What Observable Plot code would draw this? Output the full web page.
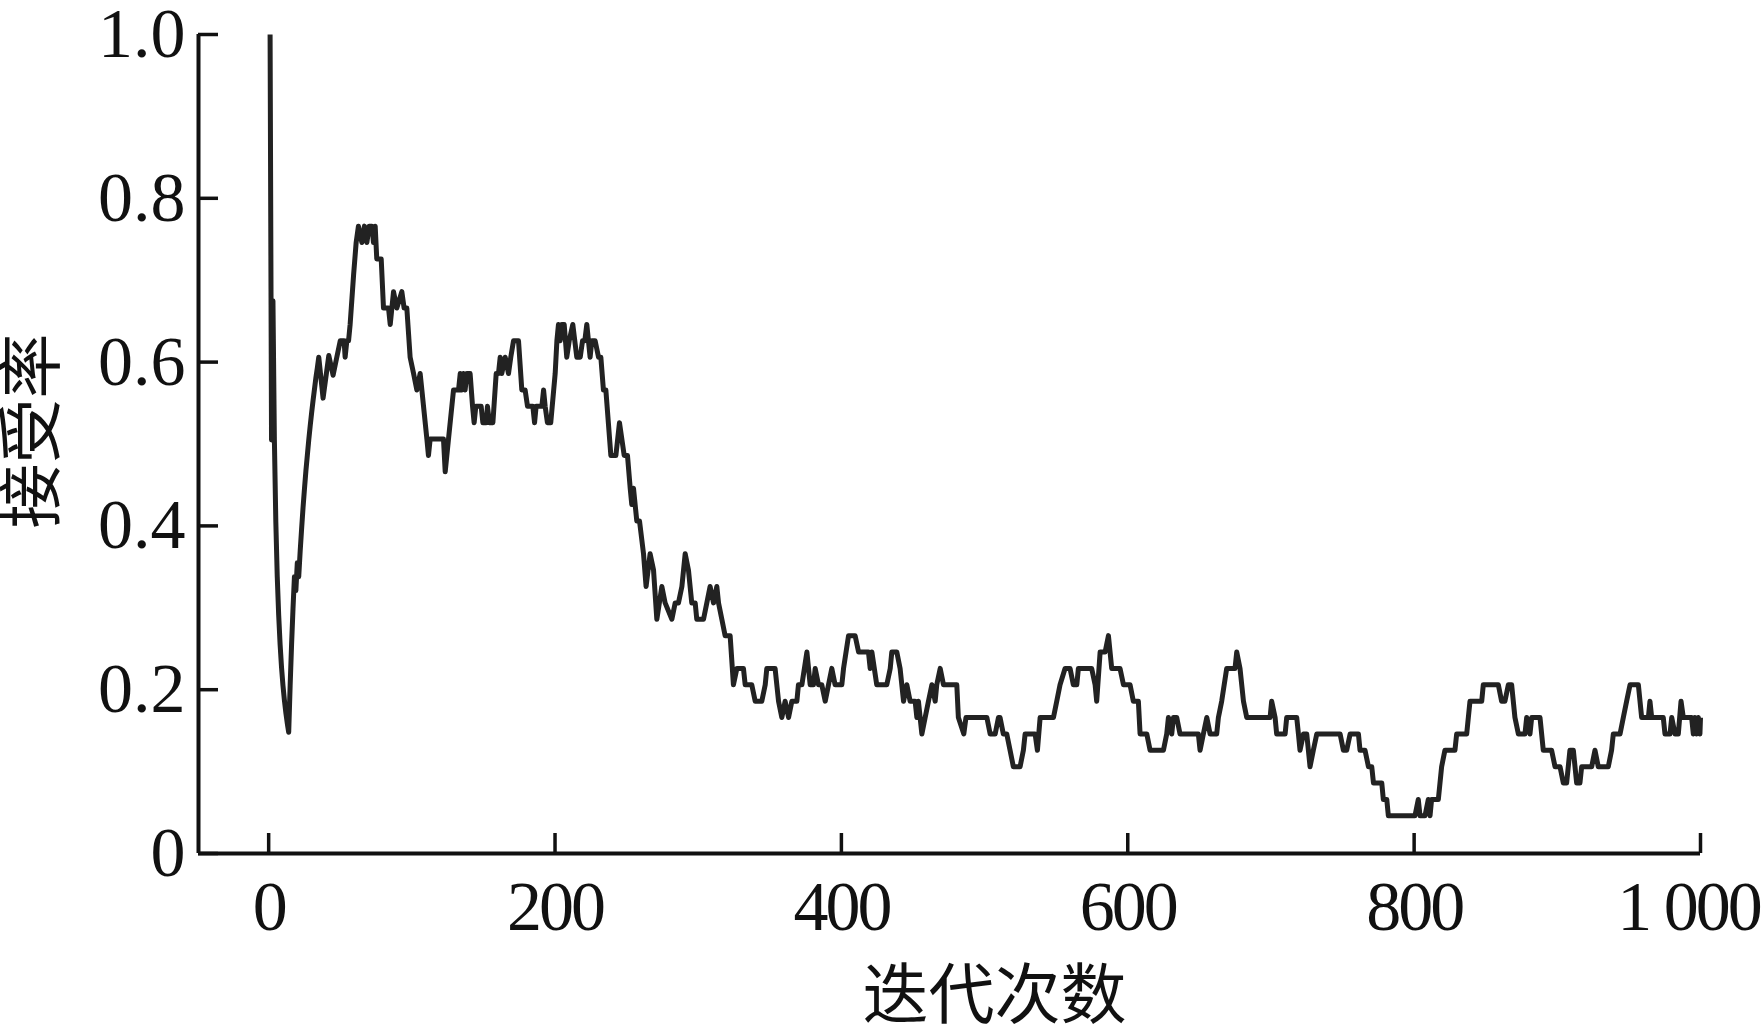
<!DOCTYPE html>
<html>
<head>
<meta charset="utf-8">
<script src="https://cdn.jsdelivr.net/npm/d3@7"></script>
<script src="https://cdn.jsdelivr.net/npm/@observablehq/plot@0.6"></script>
<style>
  html, body { margin: 0; padding: 0; background: #fff; }
  svg { display: block; }
  g[aria-label="x-axis tick label"] text { letter-spacing: -3px; }
</style>
</head>
<body>
<div id="chart"></div>
<script>
// Iteration numbers (x) and acceptance rate (y)
const iterations = [
  1, 2, 3, 4, 5, 6, 7, 8, 9, 10, 11, 12, 13, 14, 15, 16, 17, 18, 19, 20, 21, 22,
  23, 24, 25, 26, 27, 28, 29, 30, 31, 32, 33, 34, 35, 38, 42, 45, 47, 50,
  52.7, 53.4, 54.6, 55.8, 56.9, 59.3, 61.1, 62.7, 65.1, 66.9, 68.6, 70.2, 72.1, 73.2, 74.4, 75.5,
  78.6, 80.2, 83.7, 84.9, 87.2, 89.5, 93.0, 94.6, 96.5, 98.8, 101.2, 103.5, 105.8, 107.0, 110.5,
  111.6, 112.8, 122.1, 123.3, 125.6, 129.1, 132.6, 133.8, 134.9, 136.1, 137.2, 138.4, 140.7,
  142.4, 143.5, 144.7, 148.4, 149.6, 151.9, 152.8, 154.2, 156.6, 158.9, 160.5, 161.7, 162.8,
  165.2, 167.5, 169.1, 171.0, 174.5, 176.8, 179.1, 180.8, 184.5, 185.7, 186.8, 190.8, 192.0,
  193.1, 194.7, 197.0, 200.1, 201.3, 202.4, 203.6, 204.7, 206.4, 208.2, 209.9, 212.4, 215.2,
  217.6, 219.2, 220.8, 222.2, 224.5, 225.7, 228.0, 230.4, 232.0, 233.8, 235.5, 239.0, 242.5,
  245.0, 248.3, 250.6, 252.5, 253.6, 254.8, 257.1, 259.0, 261.8, 263.6, 266.4, 268.8, 271.1,
  274.6, 276.9, 281.6, 283.9, 286.2, 288.6, 290.9, 293.2, 295.5, 297.9, 299.0, 303.7, 306.0,
  308.3, 310.7, 313.0, 314.2, 316.5, 318.8, 322.3, 324.6, 327.0, 331.6, 332.8, 337.4, 339.8,
  344.4, 346.8, 347.9, 353.7, 356.1, 358.4, 360.7, 363.1, 365.4, 368.9, 370.0, 372.4, 375.9,
  378.2, 380.5, 381.7, 384.0, 386.3, 388.7, 391.0, 393.3, 395.6, 400.3, 401.5, 405.0, 409.6,
  412.0, 418.9, 420.1, 421.3, 424.7, 431.7, 434.1, 435.2, 438.7, 441.0, 443.4, 445.7, 448.0,
  451.5, 452.7, 453.8, 456.2, 458.5, 460.8, 463.2, 465.5, 466.6, 469.0, 471.3, 480.6, 481.7,
  485.5, 487.0, 501.6, 503.9, 507.4, 509.7, 510.8, 513.1, 515.5, 517.8, 520.1, 524.8, 527.1,
  528.3, 535.3, 536.9, 538.8, 548.1, 550.4, 552.7, 556.2, 559.7, 562.0, 564.4, 565.5, 574.8,
  577.2, 578.3, 580.7, 584.2, 586.5, 588.8, 594.6, 597.0, 601.6, 603.9, 607.4, 608.6, 613.3,
  615.6, 624.9, 627.2, 628.4, 630.7, 631.9, 634.2, 636.5, 649.3, 650.5, 652.8, 655.2, 657.5,
  662.1, 663.3, 665.6, 669.1, 674.9, 676.1, 678.4, 680.8, 683.1, 699.4, 700.5, 702.9, 704.0,
  709.9, 711.0, 718.0, 719.2, 720.3, 722.7, 725.0, 727.3, 729.6, 732.0, 748.3, 750.6, 752.9,
  755.3, 761.1, 762.2, 765.7, 768.1, 770.4, 771.6, 777.4, 778.5, 780.9, 782.0, 800.6, 802.9,
  804.1, 807.6, 809.9, 811.1, 812.2, 816.9, 819.2, 821.5, 828.5, 829.7, 836.7, 839.0, 847.2,
  848.3, 858.8, 861.1, 863.4, 865.8, 868.1, 870.4, 872.8, 877.4, 878.6, 880.9, 882.1, 887.9,
  890.2, 896.0, 898.4, 901.9, 904.2, 906.5, 908.8, 911.2, 913.5, 915.8, 917.0, 924.0, 926.3,
  928.6, 935.6, 937.9, 939.1, 943.8, 946.1, 948.4, 950.8, 956.6, 958.9, 963.6, 964.7, 965.9,
  974.0, 975.2, 978.7, 979.9, 982.2, 984.5, 986.4, 988.0, 993.8, 995.0, 996.1, 997.3, 998.5,
  999.6, 1000
];
const acceptance = [
  1.0, 0.505, 0.675, 0.505, 0.405, 0.338, 0.291, 0.255, 0.227, 0.205, 0.187, 0.172, 0.159, 0.148,
  0.205, 0.255, 0.299, 0.338, 0.321, 0.355, 0.338, 0.369,
  0.396, 0.422, 0.445, 0.467, 0.486, 0.505, 0.522, 0.538, 0.553, 0.567, 0.581, 0.593, 0.606,
  0.556, 0.608, 0.584, 0.601, 0.626,
  0.626, 0.606, 0.626, 0.626, 0.646, 0.706, 0.746, 0.766, 0.746, 0.766, 0.746, 0.766, 0.766, 0.746, 0.766, 0.726,
  0.726, 0.666, 0.666, 0.646, 0.686, 0.666, 0.686, 0.666, 0.666, 0.606, 0.586, 0.566, 0.586, 0.566, 0.506,
  0.486, 0.506, 0.506, 0.466, 0.506, 0.566, 0.566, 0.586, 0.566, 0.586, 0.566, 0.586, 0.586,
  0.546, 0.526, 0.546, 0.546, 0.526, 0.526, 0.546, 0.526, 0.526, 0.586, 0.586, 0.606, 0.586,
  0.606, 0.586, 0.606, 0.626, 0.626, 0.566, 0.566, 0.546, 0.546, 0.526, 0.546, 0.546, 0.566,
  0.546, 0.526, 0.526, 0.586, 0.626, 0.646, 0.626, 0.646, 0.646, 0.606, 0.626, 0.646, 0.606,
  0.606, 0.626, 0.626, 0.646, 0.606, 0.626, 0.626, 0.606, 0.606, 0.566, 0.566, 0.486, 0.486,
  0.526, 0.486, 0.486, 0.446, 0.426, 0.446, 0.406, 0.406, 0.366, 0.326, 0.366, 0.346, 0.286,
  0.326, 0.306, 0.286, 0.306, 0.306, 0.326, 0.366, 0.346, 0.306, 0.306, 0.286, 0.286, 0.306,
  0.326, 0.306, 0.326, 0.306, 0.286, 0.266, 0.266, 0.206, 0.226, 0.226, 0.206, 0.206, 0.186,
  0.186, 0.206, 0.226, 0.226, 0.186, 0.166, 0.186, 0.166, 0.186, 0.186, 0.206, 0.206, 0.246,
  0.206, 0.206, 0.226, 0.206, 0.206, 0.186, 0.206, 0.226, 0.206, 0.206, 0.226, 0.266, 0.266,
  0.246, 0.246, 0.226, 0.246, 0.206, 0.206, 0.226, 0.246, 0.246, 0.226, 0.186, 0.206, 0.186,
  0.186, 0.166, 0.186, 0.146, 0.166, 0.186, 0.206, 0.186, 0.206, 0.226, 0.206, 0.206, 0.166,
  0.146, 0.166, 0.166, 0.146, 0.146, 0.166, 0.166, 0.146, 0.146, 0.126, 0.106, 0.106, 0.126,
  0.146, 0.146, 0.126, 0.166, 0.166, 0.186, 0.206, 0.226, 0.226, 0.206, 0.206, 0.226, 0.226,
  0.206, 0.186, 0.246, 0.246, 0.266, 0.226, 0.226, 0.206, 0.206, 0.186, 0.186, 0.146, 0.146,
  0.126, 0.126, 0.146, 0.166, 0.146, 0.166, 0.166, 0.146, 0.146, 0.126, 0.146, 0.166, 0.146,
  0.146, 0.166, 0.186, 0.226, 0.226, 0.246, 0.226, 0.186, 0.166, 0.166, 0.186, 0.166, 0.146,
  0.146, 0.166, 0.166, 0.146, 0.126, 0.146, 0.146, 0.106, 0.126, 0.146, 0.146, 0.126, 0.126,
  0.146, 0.146, 0.126, 0.126, 0.106, 0.106, 0.086, 0.086, 0.066, 0.066, 0.046, 0.046, 0.066,
  0.046, 0.046, 0.066, 0.046, 0.066, 0.066, 0.106, 0.126, 0.126, 0.146, 0.146, 0.186, 0.186,
  0.206, 0.206, 0.186, 0.186, 0.206, 0.206, 0.166, 0.146, 0.146, 0.166, 0.146, 0.166, 0.166,
  0.126, 0.126, 0.106, 0.106, 0.086, 0.086, 0.126, 0.126, 0.086, 0.086, 0.106, 0.106, 0.126,
  0.106, 0.106, 0.126, 0.146, 0.146, 0.166, 0.186, 0.206, 0.206, 0.166, 0.166, 0.186, 0.166,
  0.166, 0.146, 0.146, 0.166, 0.146, 0.146, 0.186, 0.166, 0.166, 0.146, 0.166, 0.146, 0.166,
  0.146, 0.166
];

const xTicks = [0, 200, 400, 600, 800, 1000];
const xTickLabels = ["0", "200", "400", "600", "800", "1 000"];
const yTicks = [0, 0.2, 0.4, 0.6, 0.8, 1.0];
const yTickLabels = ["0", "0.2", "0.4", "0.6", "0.8", "1.0"];
const xTitle = "迭代次数";
const yTitle = "接受率";
const xDomain = [-49, 1000];
const yDomain = [0, 1];

const series = iterations.map((x, i) => ({ x, y: acceptance[i] }));

const W = 1763, H = 1033;
const mL = 198, mR = 63, mT = 34, mB = 180;
const frameW = W - mL - mR, frameH = H - mT - mB;
const numFont = "'Liberation Serif', 'Times New Roman', serif";
const cjkFont = "'Noto Sans CJK SC', sans-serif";
const ink = "#111";
const xLabel = d => xTickLabels[xTicks.indexOf(d)];
const lastTick = xTicks[xTicks.length - 1];

const chart = Plot.plot({
  width: W,
  height: H,
  marginLeft: mL,
  marginRight: mR,
  marginTop: mT,
  marginBottom: mB,
  style: { background: "#fff", color: ink, fontFamily: numFont },
  x: { domain: xDomain },
  y: { domain: yDomain },
  marks: [
    Plot.axisX(xTicks.filter(d => d !== lastTick), {
      tickSize: 0, tickPadding: 27, fontSize: 70, fontFamily: numFont, fill: ink,
      tickFormat: xLabel, label: null
    }),
    Plot.axisX([lastTick], {
      tickSize: 0, tickPadding: 27, fontSize: 70, fontFamily: numFont, fill: ink,
      tickFormat: xLabel, label: null, dx: -12
    }),
    Plot.axisY(yTicks, {
      tickSize: 0, tickPadding: 13, fontSize: 70, fontFamily: numFont, fill: ink,
      tickFormat: d => yTickLabels[yTicks.indexOf(d)], label: null
    }),
    Plot.tickX(xTicks, { x: d => d, insetTop: frameH - 20, stroke: ink, strokeWidth: 3.5 }),
    Plot.tickY(yTicks, { y: d => d, insetRight: frameW - 20, stroke: ink, strokeWidth: 3.5 }),
    Plot.ruleY([yDomain[0]], { stroke: ink, strokeWidth: 4 }),
    Plot.ruleX([xDomain[0]], { stroke: ink, strokeWidth: 4 }),
    Plot.line(series, {
      x: "x", y: "y", stroke: "#222", strokeWidth: 5,
      strokeLinejoin: "round", strokeLinecap: "butt"
    }),
    Plot.text([xTitle], {
      text: d => d, frameAnchor: "bottom", dx: 45, dy: 143,
      fontSize: 66, fontFamily: cjkFont, fill: ink,
      textAnchor: "middle", lineAnchor: "middle"
    }),
    Plot.text([yTitle], {
      text: d => d, frameAnchor: "left", dx: -165, dy: -13, rotate: -90,
      fontSize: 65, fontFamily: cjkFont, fill: ink,
      textAnchor: "middle", lineAnchor: "middle"
    })
  ]
});

document.getElementById("chart").appendChild(chart);
</script>
</body>
</html>
